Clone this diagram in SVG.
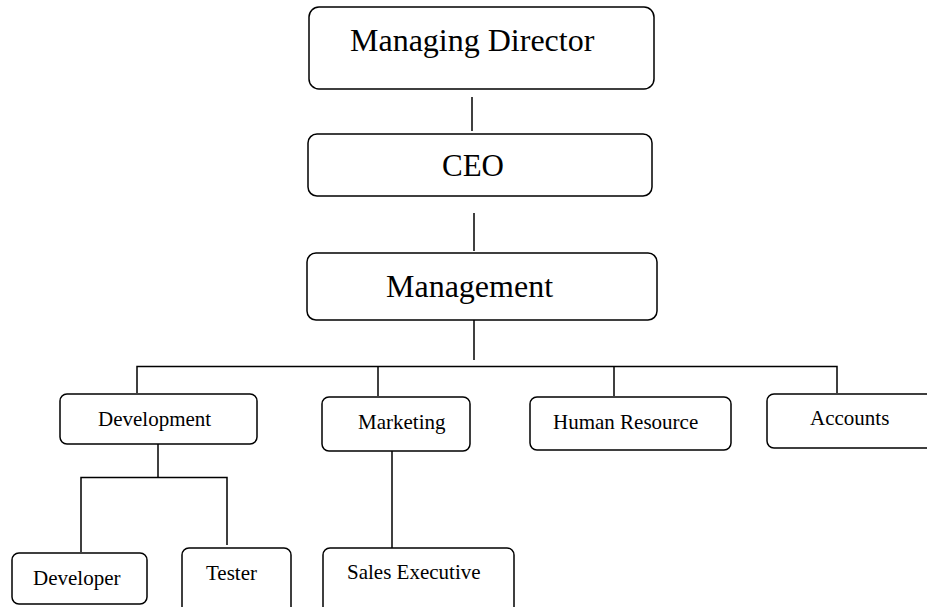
<svg xmlns="http://www.w3.org/2000/svg" width="927" height="607" viewBox="0 0 927 607">
<style>
.box{fill:#fff;stroke:#000;stroke-width:1.5}
.big{font-family:"Liberation Serif","Times New Roman",serif;font-size:32px;fill:#000}
.sm{font-family:"Liberation Serif","Times New Roman",serif;font-size:21px;fill:#000}
.c{fill:none;stroke:#000;stroke-width:1.5}
</style>
<rect width="927" height="607" fill="#fff"/>
<g id="connectors" class="c">
<line x1="472" y1="97" x2="472" y2="131"/>
<line x1="474" y1="213" x2="474" y2="251"/>
<line x1="474" y1="320" x2="474" y2="360"/>
<polyline points="137,393 137,366.5 837,366.5 837,393"/>
<line x1="378" y1="366" x2="378" y2="396"/>
<line x1="614" y1="366" x2="614" y2="396"/>
<line x1="158" y1="444" x2="158" y2="478"/>
<polyline points="81,552 81,477.5 227,477.5 227,545"/>
<line x1="392" y1="451" x2="392" y2="548"/>
</g>
<g id="managing-director">
<rect class="box" x="309" y="7" width="345" height="82" rx="10"/>
<text class="big" x="350" y="51">Managing Director</text>
</g>
<g id="ceo">
<rect class="box" x="308" y="134" width="344" height="62" rx="9"/>
<text class="big" x="473" y="176" text-anchor="middle" style="font-size:31px">CEO</text>
</g>
<g id="management">
<rect class="box" x="307" y="253" width="350" height="67" rx="9"/>
<text class="big" x="386" y="297">Management</text>
</g>
<g id="development">
<rect class="box" x="60" y="394" width="197" height="50" rx="7"/>
<text class="sm" x="98" y="426">Development</text>
</g>
<g id="marketing">
<rect class="box" x="322" y="397" width="148" height="54" rx="7"/>
<text class="sm" x="358" y="429">Marketing</text>
</g>
<g id="human-resource">
<rect class="box" x="530" y="397" width="201" height="53" rx="7"/>
<text class="sm" x="553" y="429">Human Resource</text>
</g>
<g id="accounts">
<rect class="box" x="767" y="394" width="175" height="54" rx="7"/>
<text class="sm" x="810" y="425">Accounts</text>
</g>
<g id="developer">
<rect class="box" x="12" y="553" width="135" height="51" rx="7"/>
<text class="sm" x="33" y="585">Developer</text>
</g>
<g id="tester">
<rect class="box" x="182" y="548" width="109" height="70" rx="7"/>
<text class="sm" x="206" y="580">Tester</text>
</g>
<g id="sales-executive">
<rect class="box" x="323" y="548" width="191" height="70" rx="7"/>
<text class="sm" x="347" y="579">Sales Executive</text>
</g>
</svg>
